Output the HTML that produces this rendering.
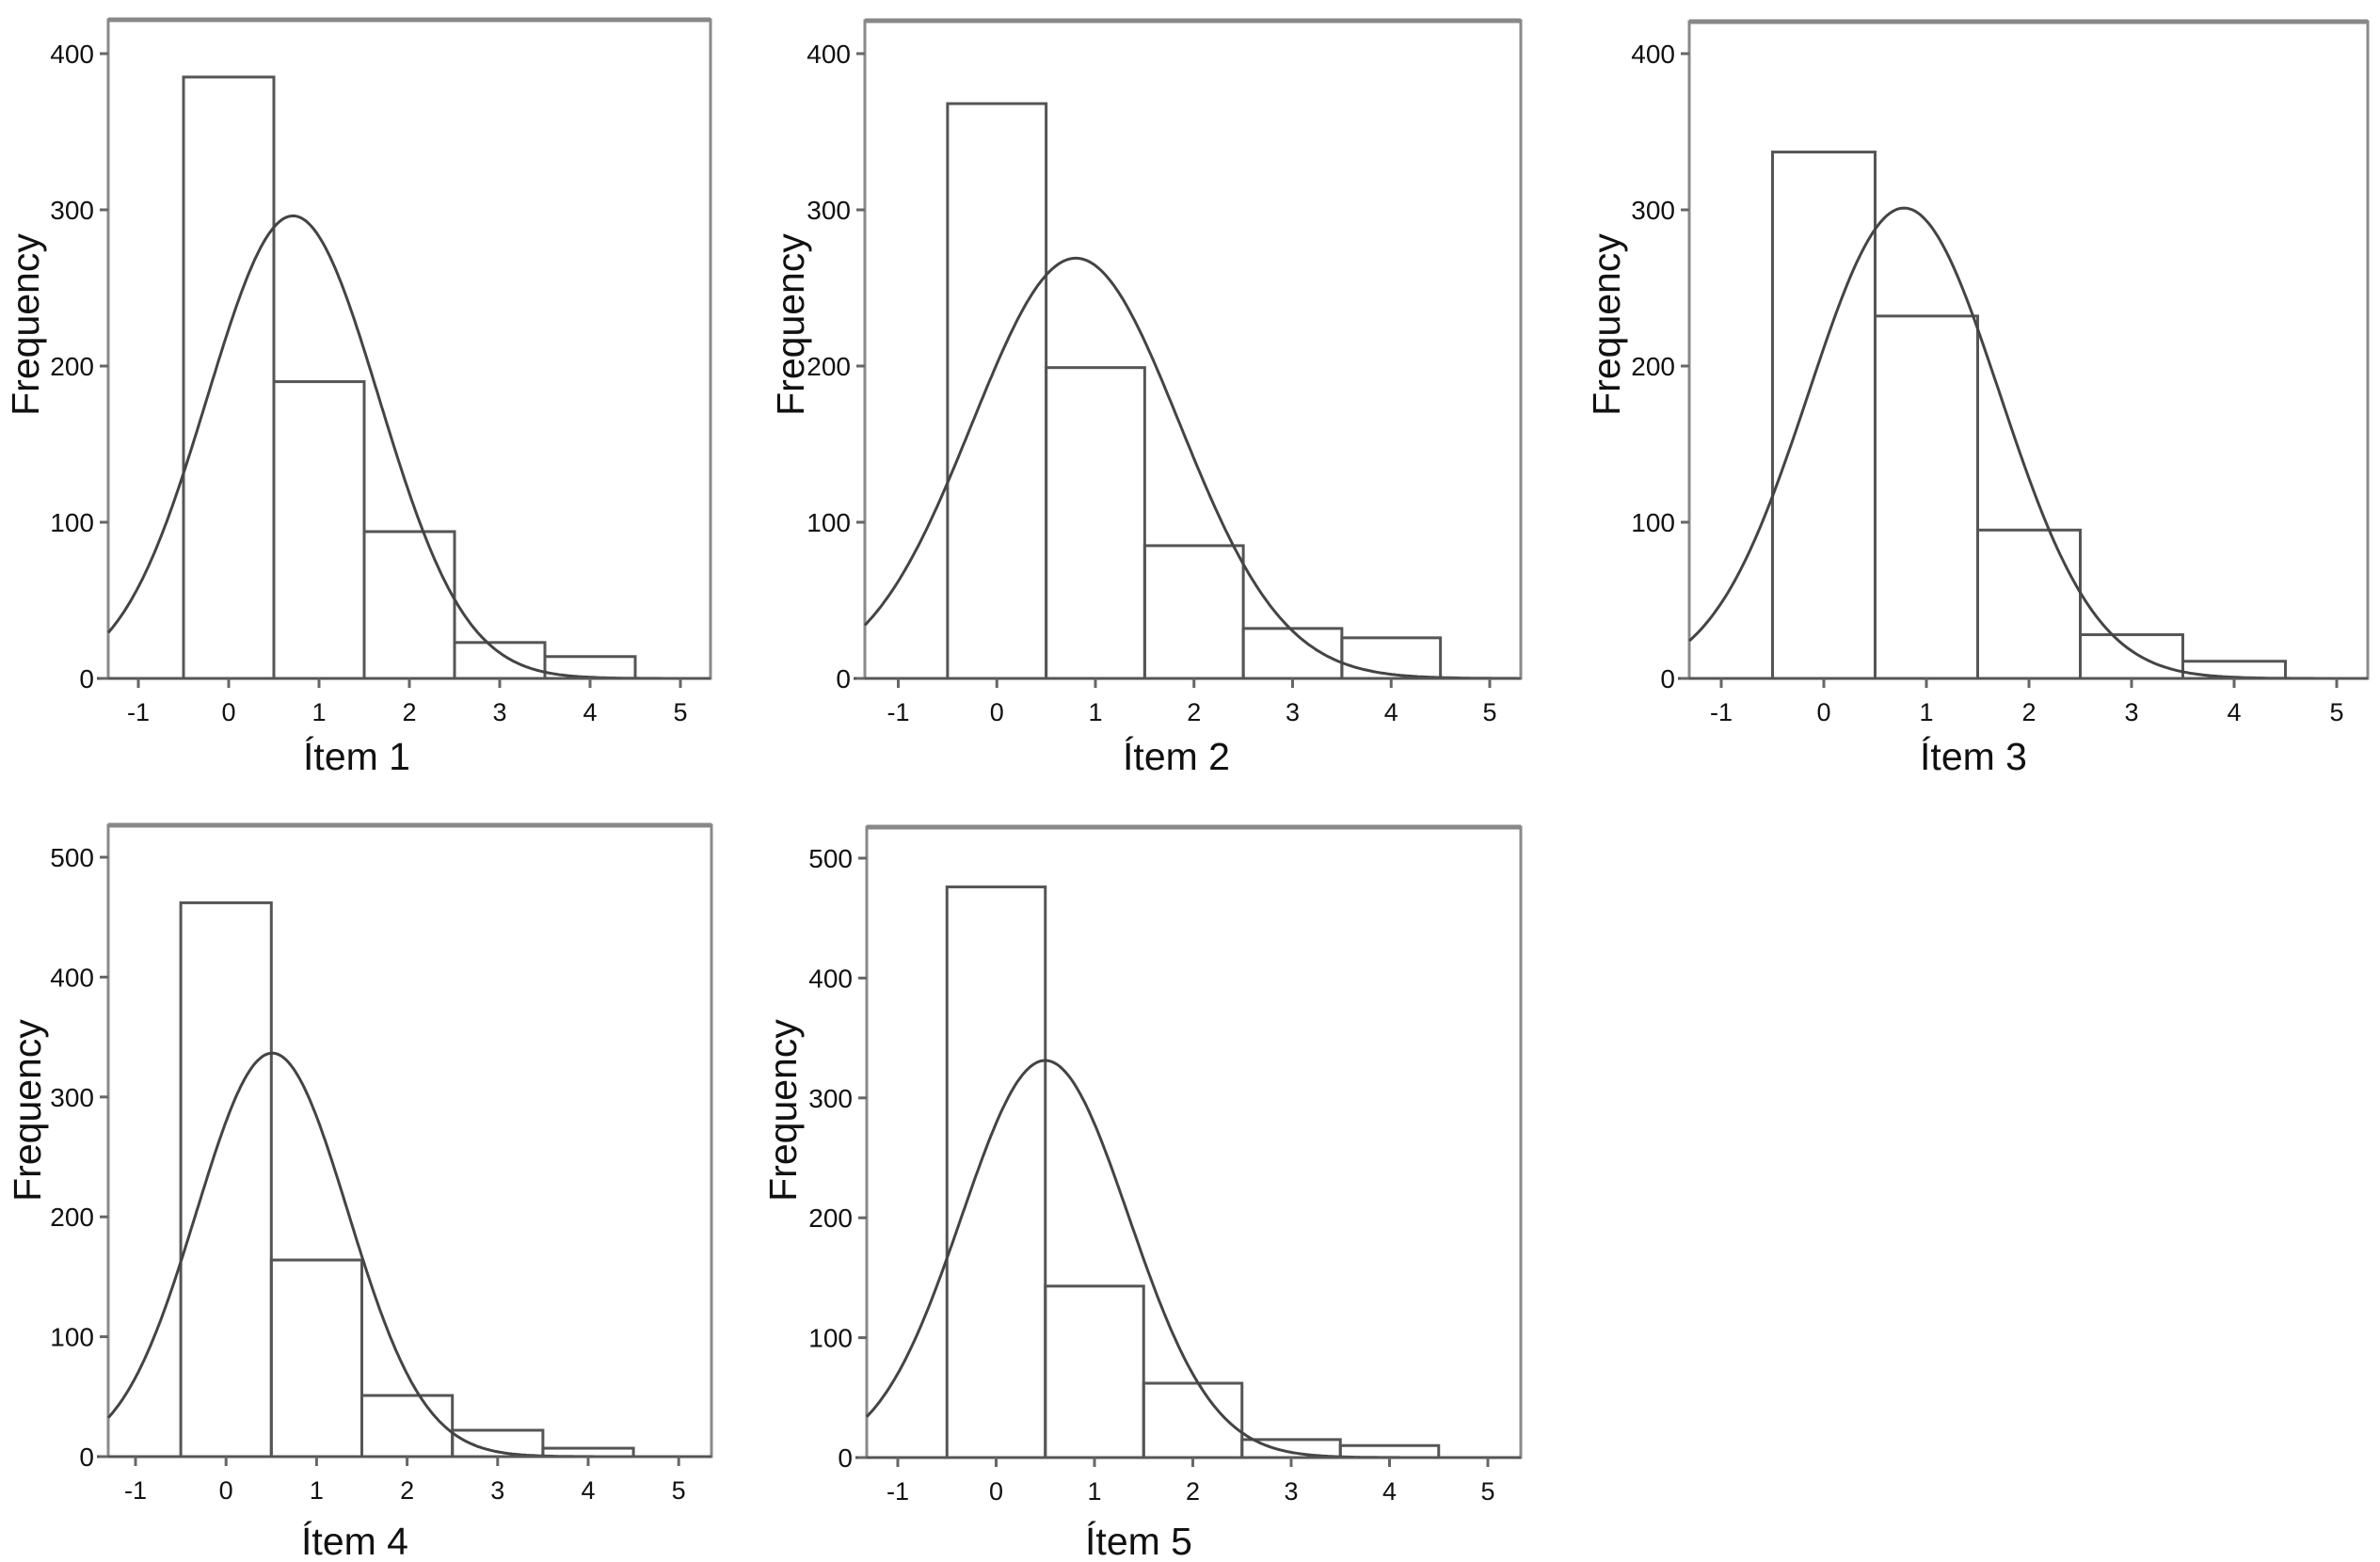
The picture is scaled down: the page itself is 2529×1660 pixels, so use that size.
<!DOCTYPE html>
<html><head><meta charset="utf-8">
<style>
html,body{margin:0;padding:0;background:#fff;}
svg{display:block;font-family:"Liberation Sans",Arial,sans-serif;}
</style></head>
<body>
<svg id="chart" width="2529" height="1660" viewBox="0 0 2529 1660" xmlns="http://www.w3.org/2000/svg"></svg>
<script>
// Data (frequency per item score 0..4)
const categories = [0, 1, 2, 3, 4];
const item1 = [385, 190, 94, 23, 14];
const item2 = [368, 199, 85, 32, 26];
const item3 = [337, 232, 95, 28, 11];
const item4 = [462, 164, 51, 22, 7];
const item5 = [476, 143, 62, 15, 10];
const xTicks = [-1, 0, 1, 2, 3, 4, 5];
const yTicksTop = [0, 100, 200, 300, 400];
const yTicksBottom = [0, 100, 200, 300, 400, 500];
const titles = ["Ítem 1", "Ítem 2", "Ítem 3", "Ítem 4", "Ítem 5"];

const series = [item1, item2, item3, item4, item5];
// layout (pixels) per panel
const layout = [
  {l:115, r:755, t:21, b:721, xm1:147, xu:96, y0:721, yu:1.66, yt:yTicksTop, fx:27, fy:345, tx:379, ty:818},
  {l:919, r:1616, t:22, b:721, xm1:954.5, xu:104.75, y0:721, yu:1.66, yt:yTicksTop, fx:840, fy:345, tx:1250, ty:818},
  {l:1795, r:2516, t:23, b:721, xm1:1829, xu:109, y0:721, yu:1.66, yt:yTicksTop, fx:1707, fy:345, tx:2097, ty:818},
  {l:115, r:756, t:877, b:1548, xm1:144, xu:96.2, y0:1548, yu:1.274, yt:yTicksBottom, fx:29, fy:1180, tx:377, ty:1652},
  {l:921, r:1616, t:879, b:1549, xm1:954, xu:104.5, y0:1549, yu:1.274, yt:yTicksBottom, fx:832, fy:1180, tx:1210, ty:1652}
];

const NS = "http://www.w3.org/2000/svg";
const svg = document.getElementById('chart');
function mk(tag, attrs, parent){
  const e = document.createElementNS(NS, tag);
  for (const k in attrs) e.setAttribute(k, attrs[k]);
  (parent || svg).appendChild(e);
  return e;
}

series.forEach((data, pi) => {
  const L = layout[pi];
  const xs = v => L.xm1 + (v + 1) * L.xu;
  const ys = v => L.y0 - v * L.yu;
  const g = mk('g', {});
  
  

  // frame
  const frame = mk('rect', {x:L.l, y:L.t, width:L.r - L.l, height:L.b - L.t, fill:'#fff', stroke:'#8a8a8a', 'stroke-width':3}, g);
  
  
  const topLine = mk('line', {x1:L.l, y1:L.t, x2:L.r, y2:L.t, stroke:'#888', 'stroke-width':5}, g);
  
  

  // bars
  categories.forEach((c, i) => {
    const bar = mk('rect', {x:xs(c - 0.5), y:ys(data[i]), width:xs(c + 0.5) - xs(c - 0.5), height:ys(0) - ys(data[i]), fill:'none', stroke:'#555', 'stroke-width':3}, g);
    
    
  });

  // normal curve from data
  let N = 0, s1 = 0, s2 = 0;
  categories.forEach((c, i) => { N += data[i]; s1 += c * data[i]; s2 += c * c * data[i]; });
  const mean = s1 / N;
  const sd = Math.sqrt(s2 / N - mean * mean);
  const xmin = (L.l - L.xm1) / L.xu - 1, xmax = (L.r - L.xm1) / L.xu - 1;
  let d = '';
  for (let k = 0; k <= 300; k++) {
    const xv = xmin + (xmax - xmin) * k / 300;
    const yv = N / (sd * Math.sqrt(2 * Math.PI)) * Math.exp(-0.5 * Math.pow((xv - mean) / sd, 2));
    d += (k ? 'L' : 'M') + xs(xv).toFixed(1) + ' ' + ys(yv).toFixed(1);
  }
  const curve = mk('path', {d:d, fill:'none', stroke:'#444', 'stroke-width':3}, g);
  
  

  // x axis line
  const xa = mk('line', {x1:L.l - 12, y1:L.b, x2:L.r, y2:L.b, stroke:'#555', 'stroke-width':3}, g);
  
  

  // x ticks
  xTicks.forEach(t => {
    const tk = mk('line', {x1:xs(t), y1:L.b, x2:xs(t), y2:L.b + 10, stroke:'#666', 'stroke-width':3}, g);
    
    
    const tl = mk('text', {x:xs(t), y:L.b + 45, 'font-size':27, 'text-anchor':'middle', fill:'#111'}, g);
    tl.textContent = t;
    
    
  });
  // y ticks
  L.yt.forEach(t => {
    const tk = mk('line', {x1:L.l - 9, y1:ys(t), x2:L.l, y2:ys(t), stroke:'#666', 'stroke-width':3}, g);
    
    
    const tl = mk('text', {x:L.l - 15, y:ys(t) + 10, 'font-size':28, 'text-anchor':'end', fill:'#111'}, g);
    tl.textContent = t;
    
    
  });
  // y-axis title
  const yt = mk('text', {x:0, y:0, 'font-size':41, 'text-anchor':'middle', fill:'#111', transform:'translate(' + (L.fx + 14) + ',' + L.fy + ') rotate(-90)'}, g);
  yt.textContent = 'Frequency';
  
  
  // x-axis title
  const xt = mk('text', {x:L.tx, y:L.ty, 'font-size':41, 'text-anchor':'middle', fill:'#111'}, g);
  xt.textContent = titles[pi];
  
  
});
</script>
</body></html>
